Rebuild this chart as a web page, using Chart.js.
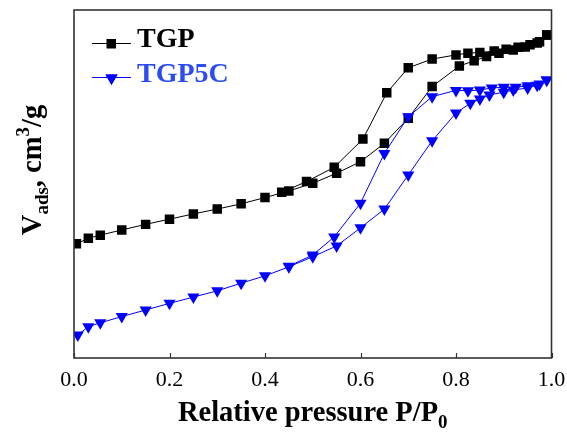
<!DOCTYPE html>
<html>
<head>
<meta charset="utf-8">
<script src="https://cdn.jsdelivr.net/npm/chart.js@4"></script>
<style>
  html, body { margin: 0; padding: 0; background: #fff; }
  #wrap { width: 567px; height: 433px; position: relative; }
</style>
</head>
<body>
<div id="wrap"><canvas id="chart" width="567" height="433"></canvas></div>
<script>
// N2 sorption isotherms: adsorption branch (rising P/P0) then desorption branch (falling P/P0)
const seriesNames = ['TGP', 'TGP5C'];
const xTicks = [0, 0.2, 0.4, 0.6, 0.8, 1.0];

const tgpAdsP = [0.005, 0.03, 0.055, 0.1, 0.15, 0.2, 0.25, 0.3, 0.35, 0.4, 0.45, 0.5, 0.55, 0.6, 0.65, 0.7, 0.75, 0.807, 0.838, 0.864, 0.89, 0.92, 0.945, 0.97, 0.99];
const tgpAdsV = [32.8, 34.4, 35.3, 36.8, 38.4, 39.9, 41.4, 42.8, 44.3, 46.1, 48.0, 50.2, 53.1, 56.4, 61.7, 68.9, 78.0, 83.9, 85.4, 86.6, 87.6, 88.5, 89.4, 90.5, 92.8];
const tgpDesP = [0.99, 0.975, 0.955, 0.93, 0.905, 0.88, 0.85, 0.825, 0.8, 0.75, 0.7, 0.655, 0.605, 0.545, 0.487, 0.435];
const tgpDesV = [92.8, 90.9, 90.0, 89.3, 88.7, 88.2, 87.8, 87.6, 87.1, 85.9, 83.4, 76.2, 62.9, 54.8, 50.7, 47.6];

const c5AdsP = [0.008, 0.03, 0.055, 0.1, 0.15, 0.2, 0.25, 0.3, 0.35, 0.4, 0.45, 0.5, 0.55, 0.6, 0.65, 0.7, 0.75, 0.8, 0.83, 0.85, 0.87, 0.9, 0.92, 0.95, 0.97, 0.99];
const c5AdsV = [6.6, 9.0, 10.1, 11.9, 13.8, 15.7, 17.5, 19.3, 21.5, 23.6, 26.2, 29.1, 32.2, 37.4, 42.8, 52.6, 62.4, 70.4, 73.2, 74.4, 75.6, 76.4, 77.0, 77.6, 78.4, 79.9];
const c5DesP = [0.99, 0.975, 0.95, 0.925, 0.9, 0.875, 0.85, 0.825, 0.8, 0.75, 0.7, 0.65, 0.6, 0.545, 0.5, 0.45];
const c5DesV = [79.9, 78.7, 78.2, 77.8, 77.8, 77.6, 77.0, 76.8, 76.9, 75.1, 69.3, 58.8, 44.5, 34.8, 29.6, 26.4];

function toPoints(ps, vs) { return ps.map((p, i) => ({ x: p, y: vs[i] })); }

const SERIF = '"Liberation Serif", "Times New Roman", serif';
const BLUE = '#0000ff';
const LEGEND_BLUE = '#2b4cf2';

// draw a run of text pieces (with sub/superscripts) starting at x along the baseline
function drawRich(ctx, pieces, x, y) {
  pieces.forEach(p => {
    ctx.font = 'bold ' + p.size + 'px ' + SERIF;
    ctx.fillText(p.t, x, y + (p.dy || 0));
    x += ctx.measureText(p.t).width;
  });
}
function richWidth(ctx, pieces) {
  let w = 0;
  pieces.forEach(p => { ctx.font = 'bold ' + p.size + 'px ' + SERIF; w += ctx.measureText(p.t).width; });
  return w;
}

const decorations = {
  id: 'decorations',
  afterDraw(chart) {
    const ctx = chart.ctx;
    const a = chart.chartArea;
    const xs = chart.scales.x;
    ctx.save();
    // frame
    ctx.strokeStyle = '#333';
    ctx.lineWidth = 1.6;
    ctx.strokeRect(a.left, a.top, a.right - a.left, a.bottom - a.top);
    // inward tick marks on the bottom axis
    ctx.lineWidth = 1.2;
    xTicks.forEach(v => {
      const px = Math.round(xs.getPixelForValue(v)) + 0.5;
      ctx.beginPath();
      ctx.moveTo(px, a.bottom);
      ctx.lineTo(px, a.bottom - 5);
      ctx.stroke();
    });

    // axis titles
    ctx.fillStyle = '#000';
    ctx.textBaseline = 'alphabetic';
    ctx.textAlign = 'left';
    const xt = [{ t: 'Relative pressure P/P', size: 28.5 }, { t: '0', size: 19, dy: 7 }];
    const xw = richWidth(ctx, xt);
    drawRich(ctx, xt, (a.left + a.right) / 2 - xw / 2, 421);

    const yt = [{ t: 'V', size: 28.5 }, { t: 'ads', size: 19, dy: 7 }, { t: ', cm', size: 28.5 },
                { t: '3', size: 19, dy: -12 }, { t: '/g', size: 28.5 }];
    const yw = richWidth(ctx, yt);
    ctx.translate(41, 170);
    ctx.rotate(-Math.PI / 2);
    drawRich(ctx, yt, -yw / 2, 0);
    ctx.restore();

    // legend: line + marker + label
    ctx.save();
    const items = [
      { name: seriesNames[0], color: '#000', text: '#000', style: 'rect', y: 43, ty: 47 },
      { name: seriesNames[1], color: BLUE, text: LEGEND_BLUE, style: 'triangle', y: 77, ty: 82 }
    ];
    items.forEach(it => {
      ctx.strokeStyle = it.color;
      ctx.lineWidth = 1;
      ctx.beginPath();
      ctx.moveTo(92, it.y + 0.5);
      ctx.lineTo(131, it.y + 0.5);
      ctx.stroke();
      ctx.fillStyle = it.color;
      if (it.style === 'rect') {
        ctx.fillRect(106.5, it.y - 4, 9.5, 9.5);
      } else {
        Chart.helpers.drawPoint(ctx, { pointStyle: 'triangle', radius: 7, rotation: 180, borderWidth: 0 }, 111.5, it.y + 1);
        ctx.fill();
      }
      ctx.fillStyle = it.text;
      ctx.font = 'bold 28px ' + SERIF;
      ctx.textBaseline = 'alphabetic';
      ctx.fillText(it.name, 137, it.ty);
    });
    ctx.restore();
  }
};

new Chart(document.getElementById('chart'), {
  type: 'line',
  data: {
    datasets: [
      {
        label: seriesNames[0],
        data: toPoints(tgpAdsP.concat(tgpDesP), tgpAdsV.concat(tgpDesV)),
        borderColor: '#000', backgroundColor: '#000', borderWidth: 1,
        pointStyle: 'rect', pointRadius: 6.7, pointBorderWidth: 0,
        pointBackgroundColor: '#000', order: 2, tension: 0
      },
      {
        label: seriesNames[1],
        data: toPoints(c5AdsP.concat(c5DesP), c5AdsV.concat(c5DesV)),
        borderColor: BLUE, backgroundColor: BLUE, borderWidth: 1,
        pointStyle: 'triangle', pointRotation: 180, pointRadius: 7, pointBorderWidth: 0,
        pointBackgroundColor: BLUE, order: 1, tension: 0
      }
    ]
  },
  options: {
    responsive: false,
    animation: false,
    devicePixelRatio: 1,
    layout: { padding: { left: 0, top: 10, right: 15.5, bottom: 0 } },
    plugins: { legend: { display: false }, tooltip: { enabled: false } },
    elements: { line: { fill: false } },
    scales: {
      x: {
        type: 'linear', min: 0, max: 1,
        afterBuildTicks: s => { s.ticks = xTicks.map(v => ({ value: v })); },
        afterFit: s => { s.height = 75; s.paddingLeft = 0; s.paddingRight = 0; },
        grid: { display: false, drawTicks: false },
        border: { display: false },
        ticks: {
          padding: 9, color: '#000',
          font: { family: SERIF, size: 22 },
          callback: v => Number(v).toFixed(1)
        }
      },
      y: {
        type: 'linear', min: 0, max: 100,
        afterFit: s => { s.width = 74; s.paddingTop = 0; s.paddingBottom = 0; },
        grid: { display: false, drawTicks: false },
        border: { display: false },
        ticks: { display: false }
      }
    }
  },
  plugins: [decorations]
});
</script>
</body>
</html>
